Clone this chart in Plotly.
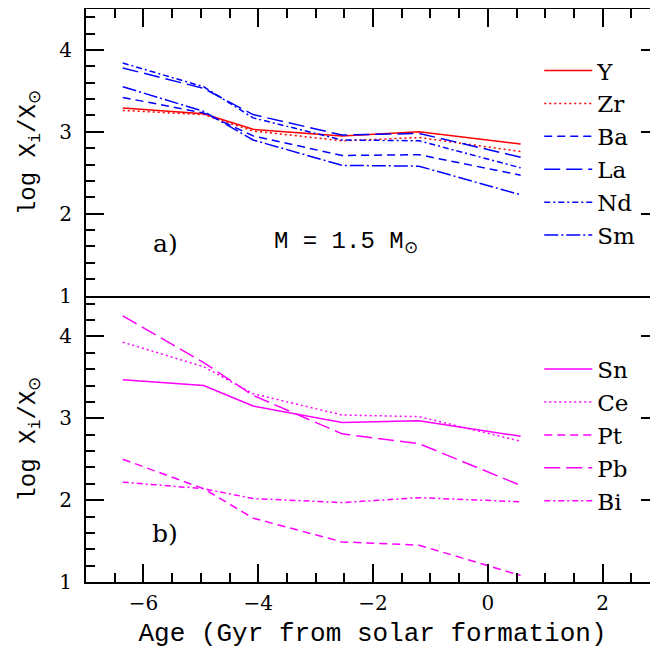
import plotly.graph_objects as go
from plotly.subplots import make_subplots

# ── Data ──────────────────────────────────────────────────────────────────────
age = [-6.36, -4.95, -4.09, -2.54, -1.20, 0.57]

# panel a)
y_Y = [3.29, 3.22, 3.03, 2.95, 3.00, 2.85]
y_Zr = [3.26, 3.21, 3.01, 2.89, 2.93, 2.76]
y_Ba = [3.42, 3.23, 2.95, 2.71, 2.72, 2.47]
y_La = [3.78, 3.53, 3.21, 2.96, 2.98, 2.69]
y_Nd = [3.84, 3.55, 3.17, 2.90, 2.89, 2.56]
y_Sm = [3.55, 3.25, 2.90, 2.59, 2.58, 2.23]

# panel b)
y_Sn = [3.47, 3.40, 3.15, 2.95, 2.97, 2.78]
y_Ce = [3.93, 3.63, 3.30, 3.04, 3.02, 2.72]
y_Pt = [2.50, 2.14, 1.78, 1.49, 1.45, 1.08]
y_Pb = [4.25, 3.68, 3.28, 2.81, 2.69, 2.18]
y_Bi = [2.22, 2.14, 2.02, 1.97, 2.03, 1.98]

FONT = "DejaVu Serif"
TFONT = "Liberation Mono"
RED, BLUE, MAG = "#ff0000", "#0000ff", "#ff00ff"

DOT = "2px,3px"
SHORT = "8px,5px"
LONG = "16px,6px"
DASHDOT = "6px,3px,2px,3px"
LONGDOT = "14px,3px,2px,3px"

fig = make_subplots(rows=2, cols=1, shared_xaxes=False, vertical_spacing=0)

top = [("Y", y_Y, RED, "solid"), ("Zr", y_Zr, RED, DOT), ("Ba", y_Ba, BLUE, SHORT),
       ("La", y_La, BLUE, LONG), ("Nd", y_Nd, BLUE, DASHDOT), ("Sm", y_Sm, BLUE, LONGDOT)]
bot = [("Sn", y_Sn, MAG, "solid"), ("Ce", y_Ce, MAG, DOT), ("Pt", y_Pt, MAG, SHORT),
       ("Pb", y_Pb, MAG, LONG), ("Bi", y_Bi, MAG, DASHDOT)]

for name, ys, col, dash in top:
    fig.add_trace(go.Scatter(x=age, y=ys, name=name, mode="lines", legend="legend",
                             line=dict(color=col, dash=dash, width=1.5)), row=1, col=1)
for name, ys, col, dash in bot:
    fig.add_trace(go.Scatter(x=age, y=ys, name=name, mode="lines", legend="legend2",
                             line=dict(color=col, dash=dash, width=1.5)), row=2, col=1)

# ── Axes ──────────────────────────────────────────────────────────────────────
# page body has an 8px margin, so the figure is laid out 8px up/left of the target
axis_common = dict(showline=True, linecolor="black", linewidth=2, ticks="inside",
                   tickcolor="black", tickwidth=2, showgrid=False, zeroline=False,
                   tickfont=dict(family=FONT, size=20, color="black"))
fig.update_xaxes(range=[-7, 2.98], dtick=2, tick0=0, ticklen=18,
                 minor=dict(dtick=0.5, ticks="inside", ticklen=9, tickcolor="black", tickwidth=2),
                 **axis_common)
fig.update_xaxes(side="top", showticklabels=False, mirror=True, row=1, col=1)
fig.update_xaxes(mirror=False, ticklabelstandoff=2,
                 title=dict(text="Age (Gyr from solar formation)",
                            font=dict(family=TFONT, size=26, color="black"), standoff=9),
                 row=2, col=1)
fig.update_yaxes(range=[1, 4.5], dtick=1, tick0=0, ticklen=18, mirror="allticks",
                 ticklabelstandoff=8,
                 minor=dict(dtick=0.2, ticks="inside", ticklen=9, tickcolor="black", tickwidth=2),
                 **axis_common)

ytitle = "log X<sub>i</sub>/X<sub>⊙</sub>"
for yc in (0.75, 0.25):
    fig.add_annotation(xref="paper", yref="paper", x=-0.098, y=yc, text=ytitle,
                       textangle=-90, showarrow=False, xanchor="center", yanchor="middle",
                       font=dict(family=TFONT, size=24, color="black"))

fig.add_annotation(xref="x", yref="y", x=-5.62, y=1.64, text="a)", showarrow=False,
                   font=dict(family=FONT, size=25, color="black"))
fig.add_annotation(xref="x", yref="y", x=-2.48, y=1.64, text="M = 1.5 M<sub>⊙</sub>",
                   showarrow=False, font=dict(family=TFONT, size=24, color="black"))
fig.add_annotation(xref="x2", yref="y2", x=-5.62, y=1.59, text="b)", showarrow=False,
                   font=dict(family=FONT, size=25, color="black"))

legend_style = dict(font=dict(family=FONT, size=23, color="black"), bgcolor="rgba(0,0,0,0)",
                    xanchor="left", yanchor="top", itemwidth=48, tracegroupgap=0)
fig.update_layout(
    width=658, height=662,
    paper_bgcolor="white", plot_bgcolor="white",
    margin=dict(l=78, r=7, t=1, b=88),
    legend=dict(x=0.791, y=0.93, **legend_style),
    legend2=dict(x=0.791, y=0.409, **legend_style),
    showlegend=True,
)

fig.write_html("out.html")
